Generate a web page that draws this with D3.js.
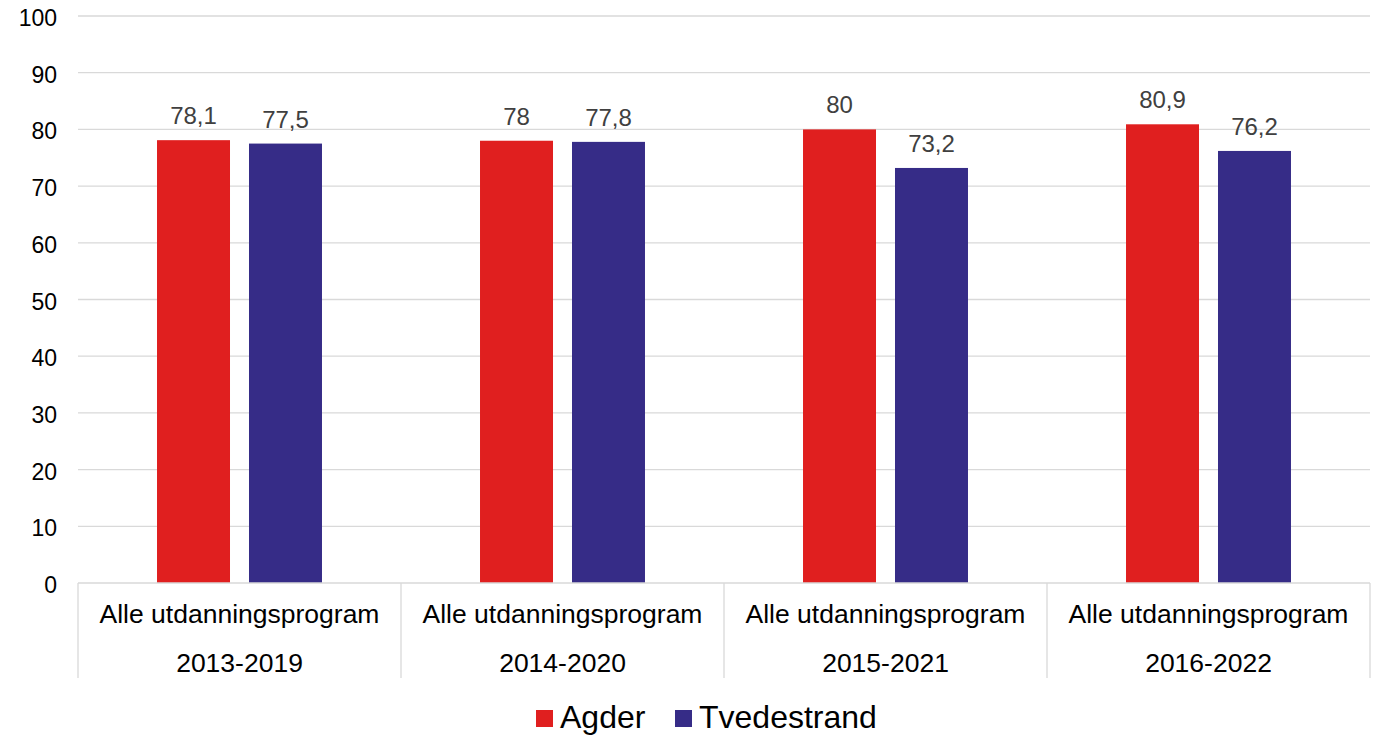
<!DOCTYPE html>
<html>
<head>
<meta charset="utf-8">
<style>
  body { margin: 0; background: #fff; font-family: 'Liberation Sans', Arial, sans-serif; }
  svg { display: block; }
</style>
</head>
<body>
<svg width="1378" height="735"></svg>
<script src="https://d3js.org/d3.v7.min.js"></script>
<script>
// chart data
let periods = ["2013-2019", "2014-2020", "2015-2021", "2016-2022"];
let program = "Alle utdanningsprogram";
let seriesNames = ["Agder", "Tvedestrand"];
let agder = [78.1, 78, 80, 80.9];
let tvedestrand = [77.5, 77.8, 73.2, 76.2];
let yTicks = [0, 10, 20, 30, 40, 50, 60, 70, 80, 90, 100];
let colors = ["#e01f1f", "#362c87"];

let svg = d3.select("svg");
let margin = {top: 16, right: 8, bottom: 152, left: 78};
let width = 1378, height = 735;

let x = d3.scaleBand()
    .domain(periods)
    .range([margin.left, width - margin.right])
    .paddingInner(0).paddingOuter(0);

let xs = d3.scaleBand()
    .domain(seriesNames)
    .range([0, x.bandwidth()])
    .paddingInner(0.2065).paddingOuter(0.859);

let y = d3.scaleLinear()
    .domain([0, 100])
    .range([height - margin.bottom, margin.top]);

// gridlines
svg.append("g")
    .selectAll("line")
    .data(yTicks.filter(d => d > 0))
    .join("line")
    .attr("x1", margin.left).attr("x2", width - margin.right)
    .attr("y1", d => y(d)).attr("y2", d => y(d))
    .attr("stroke", "#d9d9d9").attr("stroke-width", 1.3);

// y axis labels
svg.append("g")
    .selectAll("text")
    .data(yTicks)
    .join("text")
    .attr("x", 57)
    .attr("y", d => y(d) + 10)
    .attr("text-anchor", "end")
    .attr("font-size", 23)
    .attr("fill", "#000")
    .text(d => d);

let rows = periods.map((p, i) => ({period: p, vals: [agder[i], tvedestrand[i]]}));

let groups = svg.append("g")
    .selectAll("g")
    .data(rows)
    .join("g")
    .attr("transform", d => `translate(${x(d.period)},0)`);

groups.selectAll("rect")
    .data(d => d.vals.map((v, j) => ({name: seriesNames[j], v: v, j: j})))
    .join("rect")
    .attr("x", d => xs(d.name))
    .attr("width", xs.bandwidth())
    .attr("y", d => y(d.v))
    .attr("height", d => y(0) - y(d.v))
    .attr("fill", d => colors[d.j]);

groups.selectAll(".lbl")
    .data(d => d.vals.map((v, j) => ({name: seriesNames[j], v: v, j: j})))
    .join("text")
    .attr("class", "lbl")
    .attr("x", d => xs(d.name) + xs.bandwidth() / 2)
    .attr("y", d => y(d.v) - 16)
    .attr("text-anchor", "middle")
    .attr("font-size", 24)
    .attr("fill", "#404040")
    .text(d => String(d.v).replace(".", ","));

// category axis (two levels)
let base = y(0);
svg.append("line")
    .attr("x1", margin.left).attr("x2", width - margin.right)
    .attr("y1", base).attr("y2", base)
    .attr("stroke", "#d9d9d9").attr("stroke-width", 1.3);

let bounds = periods.map(p => x(p)).concat([x.range()[1]]);
svg.append("g")
    .selectAll("line")
    .data(bounds)
    .join("line")
    .attr("x1", d => d).attr("x2", d => d)
    .attr("y1", base).attr("y2", 678)
    .attr("stroke", "#d9d9d9").attr("stroke-width", 1.3);

let cat = svg.append("g")
    .selectAll("g")
    .data(periods)
    .join("g")
    .attr("transform", d => `translate(${x(d) + x.bandwidth() / 2},0)`);

cat.append("text")
    .attr("y", 623)
    .attr("text-anchor", "middle")
    .attr("font-size", 26.5)
    .text(program);

cat.append("text")
    .attr("y", 672)
    .attr("text-anchor", "middle")
    .attr("font-size", 26.5)
    .text(d => d);

// legend
let legendX = [536, 675];
let legend = svg.append("g")
    .selectAll("g")
    .data(seriesNames)
    .join("g")
    .attr("transform", (d, i) => `translate(${legendX[i]},710)`);

legend.append("rect")
    .attr("width", 17).attr("height", 17)
    .attr("fill", (d, i) => colors[i]);

legend.append("text")
    .attr("x", 24).attr("y", 18)
    .attr("font-size", 32)
    .text(d => d);
</script>
</body>
</html>
